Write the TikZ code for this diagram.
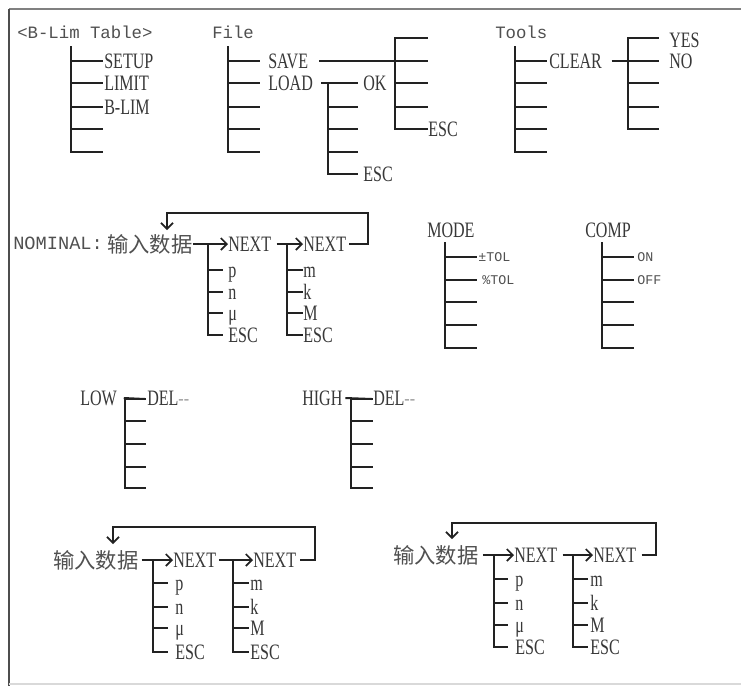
\documentclass[tikz,border=0pt]{standalone}
\usepackage{fontspec}
\usetikzlibrary{arrows.meta}
\newfontfamily\serifn[FakeStretch=0.73]{Liberation Serif}
\newfontfamily\monof{Liberation Mono}
\newfontfamily\cjkf{Noto Sans CJK SC}
\definecolor{ink}{HTML}{222222}
\definecolor{sgray}{HTML}{383838}
\definecolor{mgray}{HTML}{505050}
\definecolor{dashgray}{HTML}{A8A8A8}
\newcommand\mktree[5]{%
  \coordinate (#1-top) at (#2,#3);
  \foreach \yy [count=\ii] in {#5} {
    \coordinate (#1-r\ii) at (#2,\yy);
    \coordinate (#1-e\ii) at (#4,\yy);
    \draw[treeln] (#1-r\ii) -- (#1-e\ii);
    \xdef\mklast{\ii}
  }
  \draw[treeln] (#1-top) |- (#1-e\mklast);
}
\begin{document}
\begin{tikzpicture}[x=0.75pt,y=-0.75pt,
  treeln/.style={draw=ink, line width=1.5pt, line cap=rect},
  arr/.style={draw=ink, line width=1.5pt, -{Straight Barb[length=4.5pt,width=9pt,line width=1.3pt]}},
  plainln/.style={draw=ink, line width=1.5pt},
  slbl/.style={font=\serifn\fontsize{16.5}{16.5}\selectfont, text=sgray, anchor=west, inner sep=0pt, text height=10.8pt, text depth=0pt},
  mlbl/.style={font=\monof\fontsize{13}{13}\selectfont, text=mgray, anchor=west, inner sep=0pt, text height=8.6pt, text depth=0pt},
  smlbl/.style={font=\monof\fontsize{10}{10}\selectfont, text=mgray, anchor=west, inner sep=0pt, text height=6.6pt, text depth=0pt},
  clbl/.style={font=\cjkf\fontsize{16}{16}\selectfont, text=mgray, anchor=west, inner sep=0pt, text height=12pt, text depth=0pt},
]
\useasboundingbox[fill=white] (0,0) rectangle (741,686);
% frame
\coordinate (fr-tl) at (9,9);
\coordinate (fr-tr) at (741,9);
\coordinate (fr-bl) at (9,686);
\coordinate (fr-b1) at (9,684);
\coordinate (fr-b2) at (741,684);
\draw[draw=gray, line width=2.2pt] (fr-tl) -- (fr-tr);
\draw[draw=ink!80, line width=1.6pt] (fr-tl) -- (fr-bl);
\draw[draw=black!15, line width=1.2pt] (fr-b1) -- (fr-b2);

% ---------- top row ----------
\node[mlbl] (title) at (17,33) {<B-Lim Table>};
\mktree{ta}{71}{47}{102}{61,83,107,129,152}
\node[slbl] (setup) at (104,61) {SETUP};
\node[slbl] (limit) at (104,83) {LIMIT};
\node[slbl] (blim) at (104,107) {B-LIM};

\node[mlbl] (file) at (212,33) {File};
\mktree{tb}{228}{47}{259}{61,83,107,129,152}
\node[slbl] (save) at (268,61) {SAVE};
\node[slbl] (load) at (268,83) {LOAD};
\mktree{tc}{395}{38}{427}{38,61,83,107,129}
\draw[plainln] ([xshift=8pt]save.east) -- (tc-e2);
\node[slbl] (esc1) at (428,129) {ESC};
\mktree{td}{328}{83}{357}{83,107,129,152,174}
\draw[plainln] ([xshift=6pt]load.east) -- (td-e1);
\node[slbl] (ok) at (363,83) {OK};
\node[slbl] (esc2) at (363,174) {ESC};

\node[mlbl] (tools) at (495,33) {Tools};
\mktree{te}{515}{47}{546}{61,83,107,129,152}
\node[slbl] (clear) at (549,61) {CLEAR};
\mktree{tf}{628}{38}{658}{38,61,83,107,129}
\draw[plainln] ([xshift=7pt]clear.east) -- (tf-e2);
\node[slbl] (yes) at (669,40) {YES};
\node[slbl] (no) at (669,61) {NO};

% ---------- NOMINAL row ----------
\node[mlbl, font=\monof\fontsize{14}{14}\selectfont] (nom) at (13,244) {NOMINAL:};
\node[clbl] (in1) at (107,244) {输入数据};
\node[slbl] (nx1) at (228,244) {NEXT};
\node[slbl] (nx2) at (303,244) {NEXT};
\draw[arr] (in1.east) -- (nx1.west);
\draw[arr] ([xshift=4pt]nx1.east) -- (nx2.west);
\mktree{tg}{208}{244}{222}{270,292,313,335}
\node[slbl] (g1) at (228,270) {p};
\node[slbl] (g2) at (228,292) {n};
\node[slbl] (g3) at (228,313) {μ};
\node[slbl] (g4) at (228,335) {ESC};
\mktree{th}{287}{244}{302}{270,292,313,335}
\node[slbl] (h1) at (303,270) {m};
\node[slbl] (h2) at (303,292) {k};
\node[slbl] (h3) at (303,313) {M};
\node[slbl] (h4) at (303,335) {ESC};
\coordinate (l1a) at (368,244);
\coordinate (l1b) at (368,213);
\coordinate (l1c) at (167,213);
\coordinate (l1d) at (167,230);
\draw[arr] ([xshift=2pt]nx2.east) -- (l1a) -- (l1b) -- (l1c) -- (l1d);

% MODE / COMP
\node[slbl] (mode) at (427,230) {MODE};
\mktree{ti}{445}{243}{476}{257,280,302,325,348}
\node[smlbl] (ptol) at (478,257) {±TOL};
\node[smlbl] (pctol) at (482,280) {\%TOL};
\node[slbl] (comp) at (585,230) {COMP};
\mktree{tj}{602}{243}{633}{257,280,302,325,348}
\node[smlbl] (on) at (637,257) {ON};
\node[smlbl] (off) at (637,280) {OFF};

% LOW / HIGH
\node[slbl] (low) at (80,398) {LOW};
\mktree{tk}{125}{399}{145}{399,421,444,467,488}
\draw[plainln] ([xshift=5pt]low.east) -- (tk-e1);
\node[slbl] (del1) at (147,398) {DEL\textcolor{dashgray}{-{}-}};
\node[slbl] (high) at (302,398) {HIGH};
\mktree{tl}{351}{399}{372}{399,421,444,467,488}
\draw[plainln] ([xshift=2pt]high.east) -- (tl-e1);
\node[slbl] (del2) at (373,398) {DEL\textcolor{dashgray}{-{}-}};

% ---------- bottom left ----------
\node[clbl] (in2) at (53,560) {输入数据};
\node[slbl] (nx3) at (173,560) {NEXT};
\node[slbl] (nx4) at (253,560) {NEXT};
\draw[arr] ([xshift=2pt]in2.east) -- (nx3.west);
\draw[arr] ([xshift=2pt]nx3.east) -- (nx4.west);
\mktree{tm}{153}{560}{167}{583,607,628,652}
\node[slbl] (m1) at (175,583) {p};
\node[slbl] (m2) at (175,607) {n};
\node[slbl] (m3) at (175,628) {μ};
\node[slbl] (m4) at (175,652) {ESC};
\mktree{tn}{233}{560}{248}{583,607,628,652}
\node[slbl] (n1) at (250,583) {m};
\node[slbl] (n2) at (250,607) {k};
\node[slbl] (n3) at (250,628) {M};
\node[slbl] (n4) at (250,652) {ESC};
\coordinate (l2a) at (315,560);
\coordinate (l2b) at (315,527);
\coordinate (l2c) at (113,527);
\coordinate (l2d) at (113,544);
\draw[arr] ([xshift=3pt]nx4.east) -- (l2a) -- (l2b) -- (l2c) -- (l2d);

% ---------- bottom right ----------
\node[clbl] (in3) at (393,555) {输入数据};
\node[slbl] (nx5) at (514,555) {NEXT};
\node[slbl] (nx6) at (593,555) {NEXT};
\draw[arr] ([xshift=3pt]in3.east) -- (nx5.west);
\draw[arr] ([xshift=4pt]nx5.east) -- (nx6.west);
\mktree{to}{494}{555}{507}{579,603,625,647}
\node[slbl] (o1) at (515,579) {p};
\node[slbl] (o2) at (515,603) {n};
\node[slbl] (o3) at (515,625) {μ};
\node[slbl] (o4) at (515,647) {ESC};
\mktree{tp}{573}{555}{587}{579,603,625,647}
\node[slbl] (p1) at (590,579) {m};
\node[slbl] (p2) at (590,603) {k};
\node[slbl] (p3) at (590,625) {M};
\node[slbl] (p4) at (590,647) {ESC};
\coordinate (l3a) at (656,555);
\coordinate (l3b) at (656,523);
\coordinate (l3c) at (452,523);
\coordinate (l3d) at (452,539);
\draw[arr] ([xshift=4pt]nx6.east) -- (l3a) -- (l3b) -- (l3c) -- (l3d);
\end{tikzpicture}
\end{document}
